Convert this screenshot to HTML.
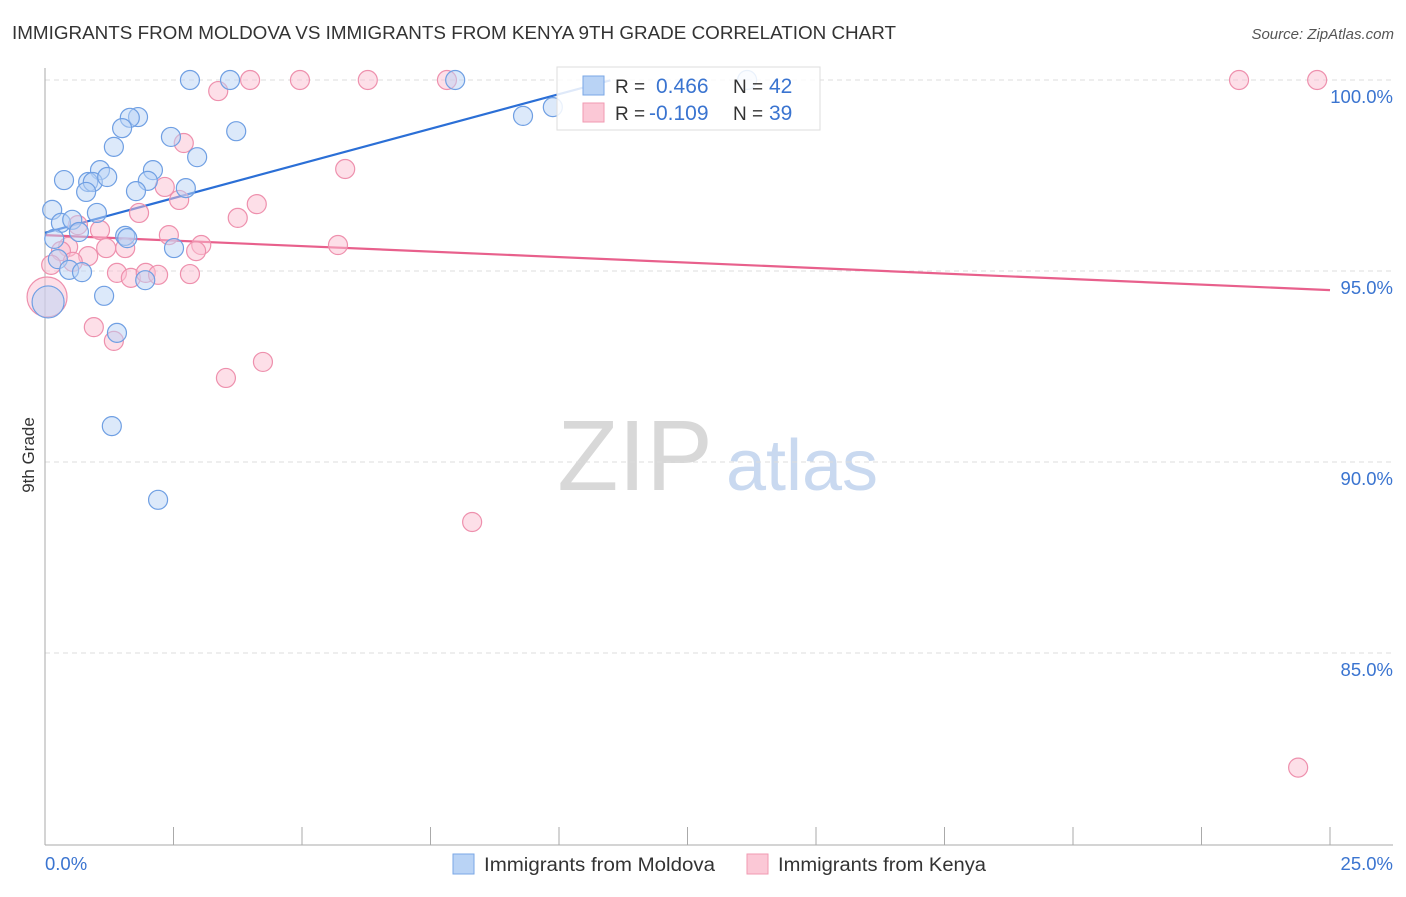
<!DOCTYPE html>
<html><head><meta charset="utf-8"><style>
body{margin:0;background:#fff;font-family:"Liberation Sans",sans-serif;}
svg text{font-family:"Liberation Sans",sans-serif;}
</style></head><body>
<svg id="chart" width="1406" height="892" xmlns="http://www.w3.org/2000/svg">
<text x="12" y="39" font-size="18.8" fill="#333" textLength="884" lengthAdjust="spacingAndGlyphs">IMMIGRANTS FROM MOLDOVA VS IMMIGRANTS FROM KENYA 9TH GRADE CORRELATION CHART</text>
<text x="1394" y="39" font-size="15" fill="#555" font-style="italic" text-anchor="end">Source: ZipAtlas.com</text>
<text x="34" y="455" font-size="17" fill="#333" text-anchor="middle" transform="rotate(-90 34 455)">9th Grade</text>
<g><text x="635" y="490" font-size="100" fill="#d8d8d8" font-family="Liberation Serif" text-anchor="middle">ZIP</text><text x="802" y="490" font-size="72" fill="#c9d9f0" text-anchor="middle">atlas</text></g>
<g id="grid"></g><g id="axes"></g><g id="trend"></g><g id="pts"></g>
<g>
<rect x="557" y="67" width="263" height="63" fill="#fff" fill-opacity="0.85" stroke="#ddd"/>
<rect x="583" y="76" width="21" height="19" fill="#b9d3f5" stroke="#7aa7e6"/>
<rect x="583" y="103" width="21" height="19" fill="#fbc8d6" stroke="#f09ab2"/>
<text x="615" y="93" font-size="19" fill="#333">R = </text><text x="656" y="93" font-size="21" fill="#3a74d0">0.466</text>
<text x="733" y="93" font-size="19" fill="#333">N = </text><text x="769" y="93" font-size="21" fill="#3a74d0">42</text>
<text x="615" y="120" font-size="19" fill="#333">R = </text><text x="649" y="120" font-size="21" fill="#3a74d0">-0.109</text>
<text x="733" y="120" font-size="19" fill="#333">N = </text><text x="769" y="120" font-size="21" fill="#3a74d0">39</text>
</g>
<g>
<rect x="453" y="854" width="21" height="20" fill="#b9d3f5" stroke="#7aa7e6"/>
<text x="484" y="871" font-size="19" fill="#333" textLength="231" lengthAdjust="spacingAndGlyphs">Immigrants from Moldova</text>
<rect x="747" y="854" width="21" height="20" fill="#fbc8d6" stroke="#f09ab2"/>
<text x="778" y="871" font-size="19" fill="#333" textLength="208" lengthAdjust="spacingAndGlyphs">Immigrants from Kenya</text>
</g>
</svg>
<script>
const blueX=[2.82,3.60,7.98,13.66,9.30,9.88,1.81,1.65,1.50,3.72,1.34,2.45,2.96,1.07,2.10,0.37,0.84,0.93,1.21,2.00,1.77,2.74,0.80,0.14,1.01,0.31,0.53,0.66,0.18,1.56,1.60,2.51,0.25,0.47,0.72,1.95,1.15,1.40,1.30,2.20,0.06];
const blueY=[100,100,100,100,99.06,99.29,99.03,99.01,98.74,98.66,98.25,98.51,97.98,97.64,97.64,97.38,97.33,97.33,97.46,97.36,97.09,97.17,97.07,96.60,96.52,96.26,96.34,96.02,95.84,95.92,95.86,95.60,95.31,95.03,94.97,94.76,94.35,93.38,90.94,89.01,94.19];
const pinkX=[3.99,4.96,6.28,7.82,23.23,24.75,3.37,2.70,5.84,2.33,2.61,1.83,4.12,3.75,1.07,0.64,2.41,3.04,2.94,5.70,0.45,1.19,1.56,0.31,0.84,0.54,1.40,1.67,1.96,2.20,2.82,0.04,0.95,1.34,4.24,3.52,8.31,24.38,0.12];
const pinkY=[100,100,100,100,100,100,99.71,98.35,97.67,97.2,96.86,96.52,96.75,96.39,96.07,96.2,95.94,95.68,95.52,95.68,95.63,95.6,95.6,95.52,95.39,95.24,94.95,94.82,94.95,94.9,94.92,94.32,93.53,93.17,92.62,92.2,88.43,82.0,95.16];
const blueTrend=[96.0,0.363,11.0];
const pinkTrend=[95.94,-0.0576,25.0];
const yTicks=[100,95,90,85];
const xTickLabels=["0.0%","25.0%"];
const NS="http://www.w3.org/2000/svg";
const sx=v=>45+v*(1285/25);
const sy=v=>80+(100-v)*(191/5);
function mk(tag,attrs,parent){const e=document.createElementNS(NS,tag);for(const k in attrs)e.setAttribute(k,attrs[k]);document.getElementById(parent).appendChild(e);return e;}
yTicks.forEach(t=>{
 const l=mk('line',{x1:45,x2:1393,y1:sy(t),y2:sy(t),stroke:'#ddd','stroke-dasharray':'5,4'},'grid');
 
 
 const tx=mk('text',{x:1393,y:sy(t)+23,'font-size':18.5,fill:'#3a74d0','text-anchor':'end'},'grid');
 tx.textContent=t.toFixed(1)+'%';
 
 
});
const ax=mk('line',{x1:45,x2:45,y1:68,y2:845,stroke:'#aaa'},'axes');


const bx=mk('line',{x1:45,x2:1393,y1:845,y2:845,stroke:'#aaa'},'axes');


for(let i=0;i<=10;i++){const tk=mk('line',{x1:sx(i*2.5),x2:sx(i*2.5),y1:827,y2:845,stroke:'#aaa'},'axes');
 
 }
const l0=mk('text',{x:45,y:870,'font-size':18.5,fill:'#3a74d0'},'axes');l0.textContent=xTickLabels[0];


const l1=mk('text',{x:1393,y:870,'font-size':18.5,fill:'#3a74d0','text-anchor':'end'},'axes');l1.textContent=xTickLabels[1];


function trend(t,col,name){const e=mk('line',{x1:sx(0),y1:sy(t[0]),x2:sx(t[2]),y2:sy(t[0]+t[1]*t[2]),stroke:col,'stroke-width':2.2},'trend');
 
 }
trend(blueTrend,'#2b6fd6','moldova-trend-line');
trend(pinkTrend,'#e8608c','kenya-trend-line');
function pts(X,Y,fill,stroke,name,bigIdx,bigR){X.forEach((x,i)=>{const c=mk('circle',{cx:sx(x),cy:sy(Y[i]),r:i===bigIdx?bigR:9.5,fill:fill,'fill-opacity':0.5,stroke:stroke,'stroke-width':1.2},'pts');
 
 });}
pts(pinkX,pinkY,'#fbc0d2','#ee90ad','kenya-point',31,20);
pts(blueX,blueY,'#b9d3f5','#6f9fe3','moldova-point',40,16);
</script>
</body></html>
